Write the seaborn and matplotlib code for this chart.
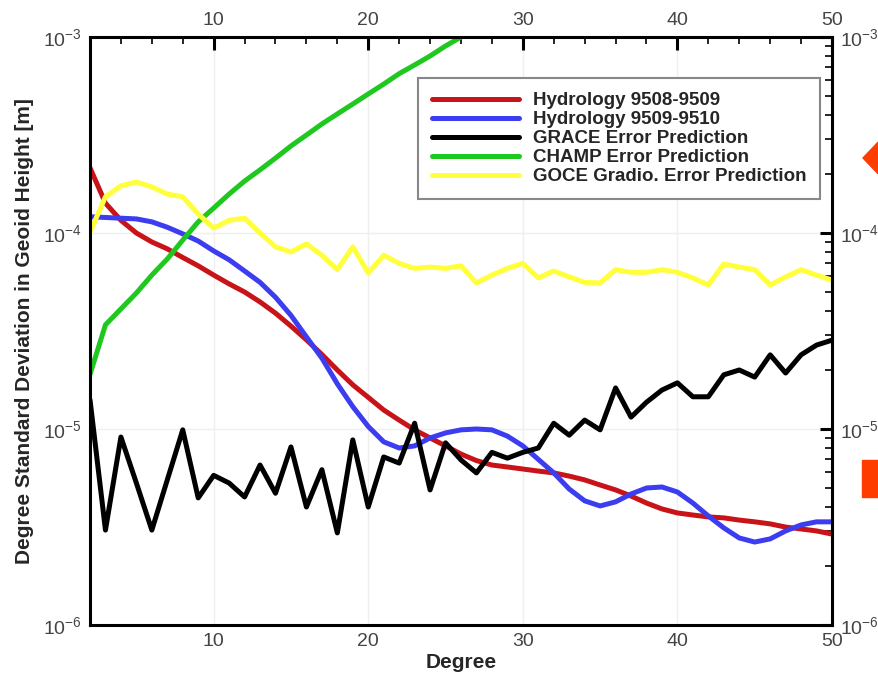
import numpy as np
import pandas as pd
import matplotlib
matplotlib.use("Agg")
import matplotlib.pyplot as plt
import matplotlib.patches as mpatches
from matplotlib.ticker import LogLocator, MultipleLocator, FixedLocator
import seaborn as sns

# --- DATA ---
degree = list(range(2, 51))

hydro_0809 = [2.15e-4, 1.42e-4, 1.16e-4, 1.0e-4, 9.0e-5, 8.3e-5, 7.5e-5, 6.8e-5, 6.1e-5, 5.5e-5,
              5.0e-5, 4.45e-5, 3.9e-5, 3.35e-5, 2.85e-5, 2.4e-5, 2.0e-5, 1.68e-5, 1.45e-5, 1.25e-5,
              1.11e-5, 9.9e-6, 9.0e-6, 8.2e-6, 7.45e-6, 6.9e-6, 6.55e-6, 6.4e-6, 6.25e-6, 6.1e-6,
              5.97e-6, 5.75e-6, 5.5e-6, 5.18e-6, 4.89e-6, 4.55e-6, 4.19e-6, 3.91e-6, 3.73e-6, 3.64e-6,
              3.56e-6, 3.52e-6, 3.43e-6, 3.36e-6, 3.28e-6, 3.16e-6, 3.09e-6, 3.02e-6, 2.91e-6]

hydro_0910 = [1.21e-4, 1.2e-4, 1.19e-4, 1.18e-4, 1.14e-4, 1.07e-4, 9.9e-5, 9.1e-5, 8.1e-5, 7.3e-5,
              6.4e-5, 5.6e-5, 4.7e-5, 3.8e-5, 2.95e-5, 2.3e-5, 1.7e-5, 1.3e-5, 1.03e-5, 8.6e-6,
              8.0e-6, 8.2e-6, 9.0e-6, 9.55e-6, 9.9e-6, 1.0e-5, 9.9e-6, 9.2e-6, 8.2e-6, 7.0e-6,
              5.97e-6, 4.94e-6, 4.3e-6, 4.05e-6, 4.25e-6, 4.66e-6, 5.0e-6, 5.06e-6, 4.77e-6, 4.19e-6,
              3.6e-6, 3.13e-6, 2.78e-6, 2.65e-6, 2.75e-6, 3.02e-6, 3.24e-6, 3.36e-6, 3.36e-6]

grace_err = [1.41e-5, 3.05e-6, 9.1e-6, 5.3e-6, 3.05e-6, 5.5e-6, 9.9e-6, 4.45e-6, 5.8e-6, 5.3e-6,
             4.5e-6, 6.55e-6, 4.7e-6, 8.1e-6, 4.0e-6, 6.2e-6, 2.95e-6, 8.8e-6, 4.0e-6, 7.2e-6,
             6.7e-6, 1.07e-5, 4.89e-6, 8.5e-6, 6.95e-6, 5.97e-6, 7.6e-6, 7.1e-6, 7.6e-6, 8.0e-6,
             1.07e-5, 9.3e-6, 1.11e-5, 9.9e-6, 1.62e-5, 1.15e-5, 1.37e-5, 1.58e-5, 1.72e-5, 1.46e-5,
             1.46e-5, 1.89e-5, 2.0e-5, 1.84e-5, 2.39e-5, 1.93e-5, 2.39e-5, 2.68e-5, 2.84e-5]

champ_degree = list(range(2, 28))
champ_err = [1.9e-5, 3.4e-5, 4.1e-5, 4.94e-5, 6.1e-5, 7.37e-5, 9.2e-5, 1.14e-4, 1.34e-4, 1.58e-4,
             1.84e-4, 2.1e-4, 2.41e-4, 2.78e-4, 3.16e-4, 3.6e-4, 4.05e-4, 4.55e-4, 5.12e-4, 5.75e-4,
             6.5e-4, 7.2e-4, 8.0e-4, 9.0e-4, 1.0e-3, 1.11e-3]

goce_err = [1.01e-4, 1.53e-4, 1.74e-4, 1.82e-4, 1.72e-4, 1.58e-4, 1.53e-4, 1.25e-4, 1.06e-4, 1.16e-4,
            1.19e-4, 1.0e-4, 8.5e-5, 8.0e-5, 8.8e-5, 7.7e-5, 6.5e-5, 8.5e-5, 6.25e-5, 7.7e-5,
            7.0e-5, 6.6e-5, 6.7e-5, 6.6e-5, 6.8e-5, 5.56e-5, 6.1e-5, 6.6e-5, 7.0e-5, 5.9e-5,
            6.4e-5, 5.97e-5, 5.6e-5, 5.56e-5, 6.5e-5, 6.3e-5, 6.3e-5, 6.5e-5, 6.3e-5, 5.9e-5,
            5.43e-5, 6.95e-5, 6.7e-5, 6.5e-5, 5.43e-5, 5.97e-5, 6.5e-5, 6.1e-5, 5.75e-5]

series_names = ["Hydrology 9508-9509", "Hydrology 9509-9510", "GRACE Error Prediction",
                "CHAMP Error Prediction", "GOCE Gradio. Error Prediction"]
series_colors = ["#c81418", "#3c3cf0", "#000000", "#1ec81e", "#ffff3c"]

# --- LONG FORMAT ---
frames = [
    pd.DataFrame({"Degree": degree, "Value": hydro_0809, "Series": series_names[0]}),
    pd.DataFrame({"Degree": degree, "Value": hydro_0910, "Series": series_names[1]}),
    pd.DataFrame({"Degree": degree, "Value": grace_err, "Series": series_names[2]}),
    pd.DataFrame({"Degree": champ_degree, "Value": champ_err, "Series": series_names[3]}),
    pd.DataFrame({"Degree": degree, "Value": goce_err, "Series": series_names[4]}),
]
df = pd.concat(frames, ignore_index=True)

sns.set_theme(style="white")
plt.rcParams["font.family"] = ["Liberation Sans", "DejaVu Sans"]
plt.rcParams["mathtext.fontset"] = "custom"
plt.rcParams["mathtext.rm"] = "Liberation Sans"

fig = plt.figure(figsize=(8.79, 6.77), dpi=100)
ax = fig.add_axes([90 / 879, 52 / 677, 742 / 879, 588 / 677])

sns.lineplot(data=df, x="Degree", y="Value", hue="Series", hue_order=series_names,
             palette=dict(zip(series_names, series_colors)), linewidth=3.6,
             estimator=None, sort=False, ax=ax)

ax.set_yscale("log")
ax.set_xlim(2, 50)
ax.set_ylim(1e-6, 1e-3)

# Ticks wie im Original: innen, auf allen Seiten
ax.xaxis.set_major_locator(FixedLocator([10, 20, 30, 40, 50]))
ax.xaxis.set_minor_locator(MultipleLocator(2))
ax.yaxis.set_major_locator(LogLocator(base=10, numticks=10))
ax.yaxis.set_minor_locator(LogLocator(base=10, subs=np.arange(2, 10), numticks=10))
ax.tick_params(which="both", direction="in", top=True, right=True,
               labeltop=True, labelright=True, colors="black", labelcolor="#444444")
ax.tick_params(which="major", length=9, width=2.2, labelsize=14, pad=6)
ax.tick_params(which="minor", length=5, width=1.2)

ax.grid(True, which="major", color="#efefef", linewidth=1.0)
for sp in ax.spines.values():
    sp.set_linewidth(2.2)
    sp.set_color("black")

ax.set_xlabel("Degree", fontsize=15, fontweight="bold", labelpad=2)
ax.set_ylabel("Degree Standard Deviation in Geoid Height [m]", fontsize=15,
              fontweight="bold", labelpad=6)

handles, labels = ax.get_legend_handles_labels()
ax.legend(handles=handles, labels=labels, loc="upper right", bbox_to_anchor=(0.984, 0.93),
          prop={"size": 13.5, "weight": "bold"}, frameon=True, fancybox=False,
          edgecolor="#888888", framealpha=1, handlelength=4.6, handletextpad=0.75,
          labelspacing=0.1, borderpad=0.75, borderaxespad=0)
ax.get_legend().get_frame().set_linewidth(1.5)

# Markierungen am rechten Bildrand
diamond = mpatches.Polygon([(863 / 879, 1 - 158 / 677), (884 / 879, 1 - 136 / 677),
                            (905 / 879, 1 - 158 / 677), (884 / 879, 1 - 180 / 677)],
                           closed=True, transform=fig.transFigure, color="#ff3c00",
                           clip_on=False)
rect = mpatches.Rectangle((862 / 879, 1 - 497 / 677), 20 / 879, 37 / 677,
                          transform=fig.transFigure, color="#ff3c00", clip_on=False)
fig.patches.extend([diamond, rect])

fig.savefig("out.png", dpi=100)
plt.close()
